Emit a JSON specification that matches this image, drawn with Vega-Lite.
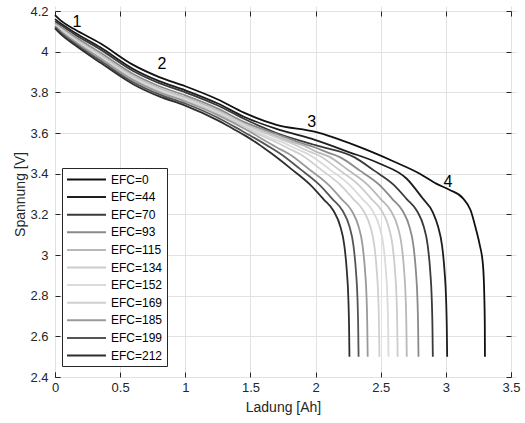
{
  "$schema": "https://vega.github.io/schema/vega-lite/v6.json",
  "width": 456,
  "height": 366,
  "autosize": {"type": "none"},
  "padding": {"left": 55, "top": 11, "right": 14, "bottom": 46},
  "background": "white",
  "config": {
    "view": {"stroke": "#262626", "strokeWidth": 1},
    "axis": {
      "domain": false,
      "gridColor": "#e2e2e2",
      "tickColor": "#262626",
      "tickSize": 5,
      "offset": -5,
      "labelFont": "Liberation Sans",
      "labelFontSize": 13,
      "labelColor": "#262626",
      "titleFont": "Liberation Sans",
      "titleFontSize": 14,
      "titleFontWeight": "normal",
      "titleColor": "#262626"
    },
    "text": {"font": "Liberation Sans"}
  },
  "layer": [
    {
      "data": {"values": [
        {"e":"EFC=0","q":0,"v":4.18},{"e":"EFC=0","q":0.05,"v":4.15},{"e":"EFC=0","q":0.15,"v":4.11},{"e":"EFC=0","q":0.35,"v":4.04},{"e":"EFC=0","q":0.6,"v":3.935},{"e":"EFC=0","q":0.8,"v":3.875},{"e":"EFC=0","q":1.0,"v":3.83},{"e":"EFC=0","q":1.25,"v":3.765},{"e":"EFC=0","q":1.45,"v":3.70},{"e":"EFC=0","q":1.7,"v":3.64},{"e":"EFC=0","q":2.0,"v":3.605},{"e":"EFC=0","q":2.3,"v":3.54},{"e":"EFC=0","q":2.6,"v":3.46},{"e":"EFC=0","q":2.8,"v":3.40},{"e":"EFC=0","q":2.93,"v":3.35},{"e":"EFC=0","q":3.03,"v":3.32},{"e":"EFC=0","q":3.13,"v":3.28},{"e":"EFC=0","q":3.19,"v":3.22},{"e":"EFC=0","q":3.23,"v":3.13},{"e":"EFC=0","q":3.26,"v":3.05},{"e":"EFC=0","q":3.285,"v":2.95},{"e":"EFC=0","q":3.295,"v":2.80},{"e":"EFC=0","q":3.299,"v":2.65},{"e":"EFC=0","q":3.30,"v":2.50},
        {"e":"EFC=44","q":0,"v":4.16},{"e":"EFC=44","q":0.05,"v":4.136},{"e":"EFC=44","q":0.15,"v":4.094},{"e":"EFC=44","q":0.35,"v":4.02},{"e":"EFC=44","q":0.6,"v":3.915},{"e":"EFC=44","q":0.8,"v":3.855},{"e":"EFC=44","q":1.0,"v":3.81},{"e":"EFC=44","q":1.25,"v":3.745},{"e":"EFC=44","q":1.45,"v":3.68},{"e":"EFC=44","q":1.7,"v":3.62},{"e":"EFC=44","q":2.0,"v":3.565},{"e":"EFC=44","q":2.24,"v":3.51},{"e":"EFC=44","q":2.49,"v":3.45},{"e":"EFC=44","q":2.70,"v":3.375},{"e":"EFC=44","q":2.82,"v":3.28},{"e":"EFC=44","q":2.90,"v":3.21},{"e":"EFC=44","q":2.94,"v":3.14},{"e":"EFC=44","q":2.97,"v":3.05},{"e":"EFC=44","q":2.99,"v":2.92},{"e":"EFC=44","q":3.002,"v":2.78},{"e":"EFC=44","q":3.007,"v":2.65},{"e":"EFC=44","q":3.01,"v":2.50},
        {"e":"EFC=70","q":0,"v":4.15},{"e":"EFC=70","q":0.05,"v":4.129},{"e":"EFC=70","q":0.15,"v":4.086},{"e":"EFC=70","q":0.35,"v":4.01},{"e":"EFC=70","q":0.6,"v":3.905},{"e":"EFC=70","q":0.8,"v":3.845},{"e":"EFC=70","q":1.0,"v":3.80},{"e":"EFC=70","q":1.25,"v":3.735},{"e":"EFC=70","q":1.45,"v":3.67},{"e":"EFC=70","q":1.7,"v":3.60},{"e":"EFC=70","q":2.0,"v":3.54},{"e":"EFC=70","q":2.3,"v":3.48},{"e":"EFC=70","q":2.45,"v":3.415},{"e":"EFC=70","q":2.60,"v":3.345},{"e":"EFC=70","q":2.70,"v":3.275},{"e":"EFC=70","q":2.78,"v":3.215},{"e":"EFC=70","q":2.83,"v":3.14},{"e":"EFC=70","q":2.86,"v":3.05},{"e":"EFC=70","q":2.88,"v":2.92},{"e":"EFC=70","q":2.892,"v":2.78},{"e":"EFC=70","q":2.897,"v":2.65},{"e":"EFC=70","q":2.90,"v":2.50},
        {"e":"EFC=93","q":0,"v":4.14},{"e":"EFC=93","q":0.05,"v":4.118},{"e":"EFC=93","q":0.15,"v":4.074},{"e":"EFC=93","q":0.35,"v":3.995},{"e":"EFC=93","q":0.6,"v":3.89},{"e":"EFC=93","q":0.8,"v":3.83},{"e":"EFC=93","q":1.0,"v":3.785},{"e":"EFC=93","q":1.25,"v":3.72},{"e":"EFC=93","q":1.45,"v":3.655},{"e":"EFC=93","q":1.7,"v":3.595},{"e":"EFC=93","q":1.89,"v":3.55},{"e":"EFC=93","q":1.99,"v":3.53},{"e":"EFC=93","q":2.09,"v":3.505},{"e":"EFC=93","q":2.19,"v":3.48},{"e":"EFC=93","q":2.34,"v":3.415},{"e":"EFC=93","q":2.49,"v":3.345},{"e":"EFC=93","q":2.59,"v":3.275},{"e":"EFC=93","q":2.67,"v":3.215},{"e":"EFC=93","q":2.72,"v":3.14},{"e":"EFC=93","q":2.75,"v":3.05},{"e":"EFC=93","q":2.77,"v":2.92},{"e":"EFC=93","q":2.782,"v":2.78},{"e":"EFC=93","q":2.787,"v":2.65},{"e":"EFC=93","q":2.79,"v":2.50},
        {"e":"EFC=115","q":0,"v":4.135},{"e":"EFC=115","q":0.05,"v":4.112},{"e":"EFC=115","q":0.15,"v":4.066},{"e":"EFC=115","q":0.35,"v":3.985},{"e":"EFC=115","q":0.6,"v":3.88},{"e":"EFC=115","q":0.8,"v":3.82},{"e":"EFC=115","q":1.0,"v":3.775},{"e":"EFC=115","q":1.25,"v":3.71},{"e":"EFC=115","q":1.45,"v":3.645},{"e":"EFC=115","q":1.7,"v":3.585},{"e":"EFC=115","q":1.8,"v":3.56},{"e":"EFC=115","q":1.9,"v":3.54},{"e":"EFC=115","q":2.0,"v":3.51},{"e":"EFC=115","q":2.1,"v":3.485},{"e":"EFC=115","q":2.25,"v":3.418},{"e":"EFC=115","q":2.40,"v":3.345},{"e":"EFC=115","q":2.50,"v":3.275},{"e":"EFC=115","q":2.58,"v":3.215},{"e":"EFC=115","q":2.63,"v":3.14},{"e":"EFC=115","q":2.66,"v":3.05},{"e":"EFC=115","q":2.68,"v":2.92},{"e":"EFC=115","q":2.692,"v":2.78},{"e":"EFC=115","q":2.697,"v":2.65},{"e":"EFC=115","q":2.70,"v":2.50},
        {"e":"EFC=134","q":0,"v":4.13},{"e":"EFC=134","q":0.05,"v":4.108},{"e":"EFC=134","q":0.15,"v":4.062},{"e":"EFC=134","q":0.35,"v":3.98},{"e":"EFC=134","q":0.6,"v":3.875},{"e":"EFC=134","q":0.8,"v":3.815},{"e":"EFC=134","q":1.0,"v":3.77},{"e":"EFC=134","q":1.25,"v":3.705},{"e":"EFC=134","q":1.45,"v":3.642},{"e":"EFC=134","q":1.73,"v":3.57},{"e":"EFC=134","q":1.83,"v":3.545},{"e":"EFC=134","q":1.93,"v":3.515},{"e":"EFC=134","q":2.03,"v":3.488},{"e":"EFC=134","q":2.18,"v":3.419},{"e":"EFC=134","q":2.33,"v":3.345},{"e":"EFC=134","q":2.43,"v":3.275},{"e":"EFC=134","q":2.51,"v":3.215},{"e":"EFC=134","q":2.56,"v":3.14},{"e":"EFC=134","q":2.59,"v":3.05},{"e":"EFC=134","q":2.61,"v":2.92},{"e":"EFC=134","q":2.622,"v":2.78},{"e":"EFC=134","q":2.627,"v":2.65},{"e":"EFC=134","q":2.63,"v":2.50},
        {"e":"EFC=152","q":0,"v":4.13},{"e":"EFC=152","q":0.05,"v":4.105},{"e":"EFC=152","q":0.15,"v":4.058},{"e":"EFC=152","q":0.35,"v":3.975},{"e":"EFC=152","q":0.6,"v":3.87},{"e":"EFC=152","q":0.8,"v":3.81},{"e":"EFC=152","q":1.0,"v":3.765},{"e":"EFC=152","q":1.25,"v":3.70},{"e":"EFC=152","q":1.45,"v":3.638},{"e":"EFC=152","q":1.66,"v":3.575},{"e":"EFC=152","q":1.76,"v":3.55},{"e":"EFC=152","q":1.86,"v":3.52},{"e":"EFC=152","q":1.96,"v":3.49},{"e":"EFC=152","q":2.11,"v":3.42},{"e":"EFC=152","q":2.26,"v":3.345},{"e":"EFC=152","q":2.36,"v":3.275},{"e":"EFC=152","q":2.44,"v":3.215},{"e":"EFC=152","q":2.49,"v":3.14},{"e":"EFC=152","q":2.52,"v":3.05},{"e":"EFC=152","q":2.54,"v":2.92},{"e":"EFC=152","q":2.552,"v":2.78},{"e":"EFC=152","q":2.557,"v":2.65},{"e":"EFC=152","q":2.56,"v":2.50},
        {"e":"EFC=169","q":0,"v":4.125},{"e":"EFC=169","q":0.05,"v":4.101},{"e":"EFC=169","q":0.15,"v":4.054},{"e":"EFC=169","q":0.35,"v":3.97},{"e":"EFC=169","q":0.6,"v":3.865},{"e":"EFC=169","q":0.8,"v":3.805},{"e":"EFC=169","q":1.0,"v":3.76},{"e":"EFC=169","q":1.25,"v":3.695},{"e":"EFC=169","q":1.45,"v":3.632},{"e":"EFC=169","q":1.59,"v":3.585},{"e":"EFC=169","q":1.69,"v":3.557},{"e":"EFC=169","q":1.79,"v":3.525},{"e":"EFC=169","q":1.89,"v":3.493},{"e":"EFC=169","q":2.04,"v":3.421},{"e":"EFC=169","q":2.19,"v":3.345},{"e":"EFC=169","q":2.29,"v":3.275},{"e":"EFC=169","q":2.37,"v":3.215},{"e":"EFC=169","q":2.42,"v":3.14},{"e":"EFC=169","q":2.45,"v":3.05},{"e":"EFC=169","q":2.47,"v":2.92},{"e":"EFC=169","q":2.482,"v":2.78},{"e":"EFC=169","q":2.487,"v":2.65},{"e":"EFC=169","q":2.49,"v":2.50},
        {"e":"EFC=185","q":0,"v":4.125},{"e":"EFC=185","q":0.05,"v":4.0975},{"e":"EFC=185","q":0.15,"v":4.05},{"e":"EFC=185","q":0.35,"v":3.965},{"e":"EFC=185","q":0.6,"v":3.86},{"e":"EFC=185","q":0.8,"v":3.80},{"e":"EFC=185","q":1.0,"v":3.755},{"e":"EFC=185","q":1.25,"v":3.688},{"e":"EFC=185","q":1.5,"v":3.605},{"e":"EFC=185","q":1.6,"v":3.567},{"e":"EFC=185","q":1.7,"v":3.53},{"e":"EFC=185","q":1.8,"v":3.495},{"e":"EFC=185","q":1.95,"v":3.422},{"e":"EFC=185","q":2.10,"v":3.345},{"e":"EFC=185","q":2.20,"v":3.275},{"e":"EFC=185","q":2.28,"v":3.215},{"e":"EFC=185","q":2.33,"v":3.14},{"e":"EFC=185","q":2.36,"v":3.05},{"e":"EFC=185","q":2.38,"v":2.92},{"e":"EFC=185","q":2.392,"v":2.78},{"e":"EFC=185","q":2.397,"v":2.65},{"e":"EFC=185","q":2.40,"v":2.50},
        {"e":"EFC=199","q":0,"v":4.12},{"e":"EFC=199","q":0.05,"v":4.09},{"e":"EFC=199","q":0.15,"v":4.042},{"e":"EFC=199","q":0.35,"v":3.955},{"e":"EFC=199","q":0.6,"v":3.85},{"e":"EFC=199","q":0.8,"v":3.79},{"e":"EFC=199","q":1.0,"v":3.745},{"e":"EFC=199","q":1.25,"v":3.675},{"e":"EFC=199","q":1.43,"v":3.612},{"e":"EFC=199","q":1.53,"v":3.576},{"e":"EFC=199","q":1.63,"v":3.538},{"e":"EFC=199","q":1.73,"v":3.498},{"e":"EFC=199","q":1.88,"v":3.4235},{"e":"EFC=199","q":2.03,"v":3.345},{"e":"EFC=199","q":2.13,"v":3.275},{"e":"EFC=199","q":2.21,"v":3.215},{"e":"EFC=199","q":2.26,"v":3.14},{"e":"EFC=199","q":2.29,"v":3.05},{"e":"EFC=199","q":2.31,"v":2.92},{"e":"EFC=199","q":2.322,"v":2.78},{"e":"EFC=199","q":2.327,"v":2.65},{"e":"EFC=199","q":2.33,"v":2.50},
        {"e":"EFC=212","q":0,"v":4.115},{"e":"EFC=212","q":0.05,"v":4.083},{"e":"EFC=212","q":0.15,"v":4.034},{"e":"EFC=212","q":0.35,"v":3.945},{"e":"EFC=212","q":0.6,"v":3.84},{"e":"EFC=212","q":0.8,"v":3.78},{"e":"EFC=212","q":1.0,"v":3.735},{"e":"EFC=212","q":1.25,"v":3.662},{"e":"EFC=212","q":1.36,"v":3.623},{"e":"EFC=212","q":1.46,"v":3.587},{"e":"EFC=212","q":1.56,"v":3.546},{"e":"EFC=212","q":1.66,"v":3.50},{"e":"EFC=212","q":1.81,"v":3.425},{"e":"EFC=212","q":1.96,"v":3.345},{"e":"EFC=212","q":2.06,"v":3.275},{"e":"EFC=212","q":2.14,"v":3.215},{"e":"EFC=212","q":2.19,"v":3.14},{"e":"EFC=212","q":2.22,"v":3.05},{"e":"EFC=212","q":2.24,"v":2.92},{"e":"EFC=212","q":2.252,"v":2.78},{"e":"EFC=212","q":2.257,"v":2.65},{"e":"EFC=212","q":2.26,"v":2.50}
      ]},
      "mark": {"type": "line", "strokeWidth": 1.8, "interpolate": "monotone"},
      "encoding": {
        "x": {"field": "q", "type": "quantitative",
          "scale": {"domain": [0, 3.5], "nice": false, "zero": false},
          "axis": {"title": "Ladung [Ah]", "values": [0, 0.5, 1, 1.5, 2, 2.5, 3, 3.5], "format": "~g", "grid": true, "labelPadding": 4, "titlePadding": 6, "labelFlush": false}},
        "y": {"field": "v", "type": "quantitative",
          "scale": {"domain": [2.4, 4.2], "nice": false, "zero": false},
          "axis": {"title": "Spannung [V]", "values": [2.4, 2.6, 2.8, 3, 3.2, 3.4, 3.6, 3.8, 4, 4.2], "format": "~g", "grid": true, "labelPadding": 7, "titlePadding": 2, "labelFlush": false}},
        "color": {"field": "e", "type": "nominal",
          "scale": {"domain": ["EFC=0","EFC=44","EFC=70","EFC=93","EFC=115","EFC=134","EFC=152","EFC=169","EFC=185","EFC=199","EFC=212"],
                    "range": ["#111111","#1e1e1e","#3a3a3a","#8a8a8a","#b8b8b8","#cccccc","#dadada","#cfcfcf","#9a9a9a","#555555","#2e2e2e"]},
          "legend": {"orient": "none", "legendX": 7, "legendY": 157, "title": null,
            "symbolType": "M-1,0H5", "symbolSize": 169, "symbolStrokeWidth": 2,
            "labelFont": "Liberation Sans", "labelFontSize": 12, "labelColor": "#000000",
            "labelOffset": 30, "rowPadding": 3.6,
            "strokeColor": "#262626", "fillColor": "white", "padding": 4}}
      }
    },
    {
      "data": {"values": [
        {"t": "1", "q": 0.169, "v": 4.146},
        {"t": "2", "q": 0.82, "v": 3.939},
        {"t": "3", "q": 1.97, "v": 3.654},
        {"t": "4", "q": 3.016, "v": 3.359}
      ]},
      "mark": {"type": "text", "fontSize": 16, "color": "#000000", "align": "center", "baseline": "middle"},
      "encoding": {
        "x": {"field": "q", "type": "quantitative", "scale": {"domain": [0, 3.5], "nice": false, "zero": false},
          "axis": {"orient": "top", "title": null, "labels": false, "grid": false, "values": [0, 0.5, 1, 1.5, 2, 2.5, 3, 3.5]}},
        "y": {"field": "v", "type": "quantitative", "scale": {"domain": [2.4, 4.2], "nice": false, "zero": false},
          "axis": {"orient": "right", "title": null, "labels": false, "grid": false, "values": [2.4, 2.6, 2.8, 3, 3.2, 3.4, 3.6, 3.8, 4, 4.2]}},
        "text": {"field": "t"}
      }
    }
  ],
  "resolve": {"axis": {"x": "independent", "y": "independent"}}
}
